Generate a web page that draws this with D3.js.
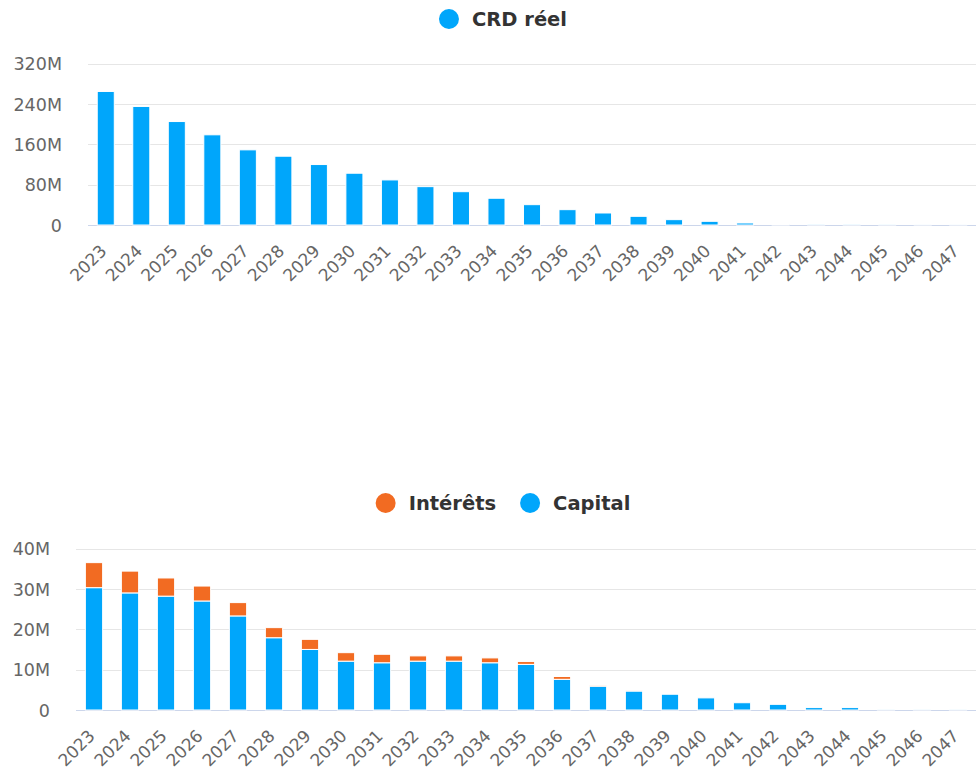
<!DOCTYPE html>
<html>
<head>
<meta charset="utf-8">
<script src="https://cdn.jsdelivr.net/npm/d3@7"></script>
<style>
  body { margin: 0; background: #fff; }
  svg { display: block; font-family: "DejaVu Sans", sans-serif; }
</style>
</head>
<body>
<svg id="chart" width="976" height="776"></svg>
<script>
// années
var years = ['2023','2024','2025','2026','2027','2028','2029','2030','2031','2032','2033','2034','2035',
  '2036','2037','2038','2039','2040','2041','2042','2043','2044','2045','2046','2047'];

// capital restant dû (M)
var crd = [264.6, 234.9, 205.0, 178.7, 148.9, 136.3, 119.8, 102.6, 89.3, 76.0, 66.0, 53.0, 40.3,
  30.4, 23.8, 17.2, 10.6, 7.3, 4.0, 1.2, 0.6, 0.4, 0.2, 0.1, 0.1];

// amortissement annuel (M)
var capital = [30.3, 29.0, 28.2, 27.0, 23.3, 17.9, 15.0, 12.1, 11.7, 12.1, 12.1, 11.7, 11.3,
  7.6, 5.9, 4.7, 3.9, 3.0, 1.8, 1.4, 0.6, 0.6, 0.1, 0.1, 0.1];
var interets = [6.2, 5.4, 4.5, 3.7, 3.3, 2.5, 2.5, 2.1, 2.1, 1.3, 1.3, 1.2, 0.7,
  0.7, 0.1, 0.1, 0, 0, 0, 0, 0, 0, 0, 0, 0];

var crdTicks = [0, 80, 160, 240, 320];
var annTicks = [0, 10, 20, 30, 40];

var BLUE = '#00a6fb';
var ORANGE = '#f26b22';

var svg = d3.select('#chart');

function fmt(d) { return d === 0 ? '0' : d + 'M'; }

function drawFrame(g, x, y, ticks, left, right, base) {
  // lignes de grille
  g.append('g').selectAll('line')
    .data(ticks.filter(function(t) { return t !== 0; }))
    .enter().append('line')
    .attr('x1', left).attr('x2', right)
    .attr('y1', function(d) { return Math.round(y(d)) + 0.5; })
    .attr('y2', function(d) { return Math.round(y(d)) + 0.5; })
    .attr('stroke', '#e6e6e6');

  // axe Y
  var ya = g.append('g')
    .attr('transform', 'translate(' + left + ',0)')
    .call(d3.axisLeft(y).tickValues(ticks).tickFormat(fmt).tickSize(0).tickPadding(26))
    .attr('font-family', null).attr('font-size', null);
  ya.select('.domain').remove();
  ya.selectAll('text')
    .attr('fill', '#666').style('font-size', '17.5px').attr('dy', '0.36em');

  // axe X
  var xa = g.append('g')
    .attr('transform', 'translate(0,' + base + ')')
    .call(d3.axisBottom(x).tickSize(0))
    .attr('font-family', null).attr('font-size', null);
  xa.select('.domain').remove();
  xa.selectAll('text')
    .attr('fill', '#666').style('font-size', '17px')
    .attr('text-anchor', 'end')
    .attr('y', 0).attr('dy', 0)
    .attr('transform', 'translate(2,27) rotate(-45)');

  g.append('line')
    .attr('x1', left).attr('x2', right)
    .attr('y1', Math.round(base) + 0.5).attr('y2', Math.round(base) + 0.5)
    .attr('stroke', '#ccd6eb');
}

function drawLegend(items, cx, cy) {
  var lg = svg.append('g');
  var pos = 0;
  items.forEach(function(it) {
    var item = lg.append('g');
    item.append('circle').attr('cx', 10).attr('cy', 0).attr('r', 10).attr('fill', it.color);
    var t = item.append('text').attr('x', 33).attr('y', 7)
      .attr('fill', '#333').style('font-size', '19.5px').style('font-weight', 'bold')
      .text(it.name);
    var w = 33 + t.node().getComputedTextLength();
    item.attr('transform', 'translate(' + pos + ',0)');
    pos += w + 24;
  });
  var total = pos - 24;
  lg.attr('transform', 'translate(' + (cx - total / 2) + ',' + cy + ')');
}

// ---- graphique 1 : CRD réel ----
var left1 = 88, right1 = 976, base1 = 225;
var x1 = d3.scaleBand().domain(years).range([left1, right1]).paddingInner(0.52).paddingOuter(0.26);
var y1 = d3.scaleLinear().domain([0, 320]).range([base1, 63.5]);
var g1 = svg.append('g');
drawFrame(g1, x1, y1, crdTicks, left1, right1, base1);

g1.append('g').selectAll('rect')
  .data(crd)
  .enter().append('rect')
  .attr('x', function(d, i) { return x1(years[i]); })
  .attr('width', x1.bandwidth())
  .attr('y', function(d) { return y1(d); })
  .attr('height', function(d) { return base1 - y1(d); })
  .attr('fill', BLUE)
  .attr('stroke', '#fff').attr('stroke-width', 1);

drawLegend([{ name: 'CRD réel', color: BLUE }], 503, 19);

// ---- graphique 2 : Intérêts / Capital ----
var left2 = 76, right2 = 976, base2 = 710;
var x2 = d3.scaleBand().domain(years).range([left2, right2]).paddingInner(0.52).paddingOuter(0.26);
var y2 = d3.scaleLinear().domain([0, 40]).range([base2, 548.5]);
var g2 = svg.append('g');
drawFrame(g2, x2, y2, annTicks, left2, right2, base2);

var table = years.map(function(yr, i) {
  return { year: yr, capital: capital[i], interets: interets[i] };
});
var stack = d3.stack().keys(['capital', 'interets'])(table);
var colors = { capital: BLUE, interets: ORANGE };

g2.append('g').selectAll('g')
  .data(stack)
  .enter().append('g')
  .attr('fill', function(s) { return colors[s.key]; })
  .selectAll('rect')
  .data(function(s) { return s.filter(function(d) { return d[1] > d[0]; }); })
  .enter().append('rect')
  .attr('x', function(d) { return x2(d.data.year); })
  .attr('width', x2.bandwidth())
  .attr('y', function(d) { return y2(d[1]); })
  .attr('height', function(d) { return y2(d[0]) - y2(d[1]); })
  .attr('stroke', '#fff').attr('stroke-width', 1);

drawLegend([{ name: 'Intérêts', color: ORANGE }, { name: 'Capital', color: BLUE }], 503, 503);
</script>
</body>
</html>
